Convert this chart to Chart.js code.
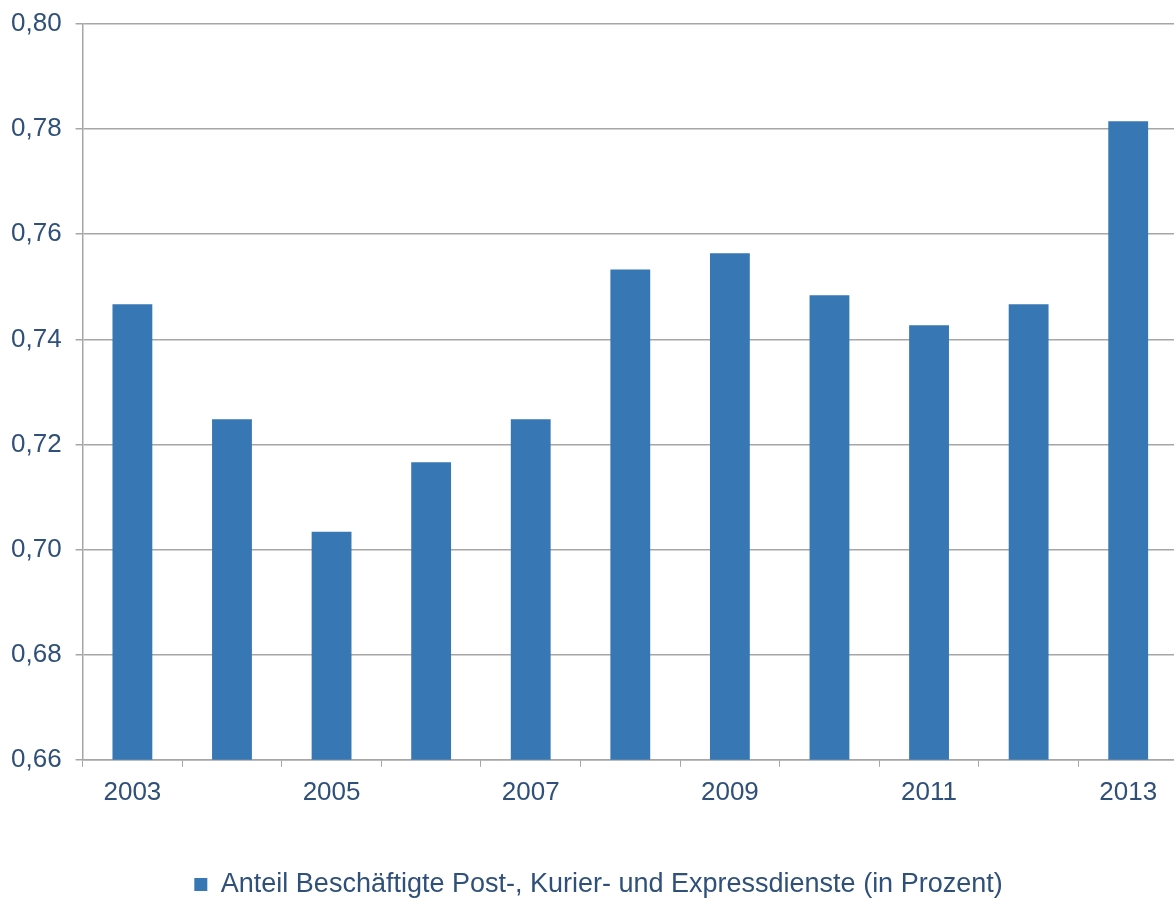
<!DOCTYPE html>
<html>
<head>
<meta charset="utf-8">
<script src="https://cdn.jsdelivr.net/npm/chart.js@4/dist/chart.umd.min.js"></script>
<style>
  html, body { margin: 0; padding: 0; background: #fff; overflow: hidden; }
  #wrap { width: 1180px; height: 900px; }
</style>
</head>
<body>
<div id="wrap"><canvas id="chart" width="1180" height="900"></canvas></div>
<script>
// Anteil Beschäftigte Post-, Kurier- und Expressdienste
const years = ['2003', '2004', '2005', '2006', '2007', '2008', '2009', '2010', '2011', '2012', '2013'];
const shares = [0.7467, 0.7248, 0.7034, 0.7166, 0.7248, 0.7533, 0.7564, 0.7484, 0.7427, 0.7467, 0.7815];
const seriesLabel = 'Anteil Beschäftigte Post-, Kurier- und Expressdienste (in Prozent)';

const textColor = '#2f5078';
const lineColor = '#a6a6a6';
const barColor = '#3777b4';

// nudge the legend a bit to the right, like the original
const legendShift = {
    id: 'legendShift',
    afterLayout(chart) {
        if (!chart.legend) return;
        chart.legend.left += 11;
        chart.legend.right += 11;
    }
};

const ctx = document.getElementById('chart').getContext('2d');
new Chart(ctx, {
    type: 'bar',
    data: {
        labels: years,
        datasets: [{
            label: seriesLabel,
            data: shares,
            backgroundColor: barColor,
            borderWidth: 0,
            categoryPercentage: 1.0,
            barPercentage: 0.4
        }]
    },
    options: {
        responsive: false,
        animation: false,
        layout: { padding: { left: -3, right: 2, top: 24, bottom: -8 } },
        plugins: {
            tooltip: { enabled: false },
            legend: {
                position: 'bottom',
                labels: {
                    color: textColor,
                    font: { family: 'Liberation Sans', size: 27 },
                    boxWidth: 13,
                    boxHeight: 13,
                    padding: 53
                }
            }
        },
        scales: {
            x: {
                grid: { drawOnChartArea: false, color: lineColor, tickLength: 7, offset: true },
                border: { color: lineColor, width: 1.5 },
                ticks: {
                    autoSkip: false,
                    maxRotation: 0,
                    color: textColor,
                    padding: 10,
                    font: { family: 'Liberation Sans', size: 26 },
                    callback: (v, i) => (i % 2 === 0 ? years[i] : '')
                }
            },
            y: {
                min: 0.66,
                max: 0.80,
                afterFit: scale => { scale.paddingTop = 0; },
                grid: { color: lineColor, lineWidth: 1.5, tickLength: 7 },
                border: { color: lineColor, width: 1.5 },
                ticks: {
                    stepSize: 0.02,
                    color: textColor,
                    padding: 14,
                    font: { family: 'Liberation Sans', size: 26 },
                    callback: v => v.toFixed(2).replace('.', ',')
                }
            }
        }
    },
    plugins: [legendShift]
});
</script>
</body>
</html>
